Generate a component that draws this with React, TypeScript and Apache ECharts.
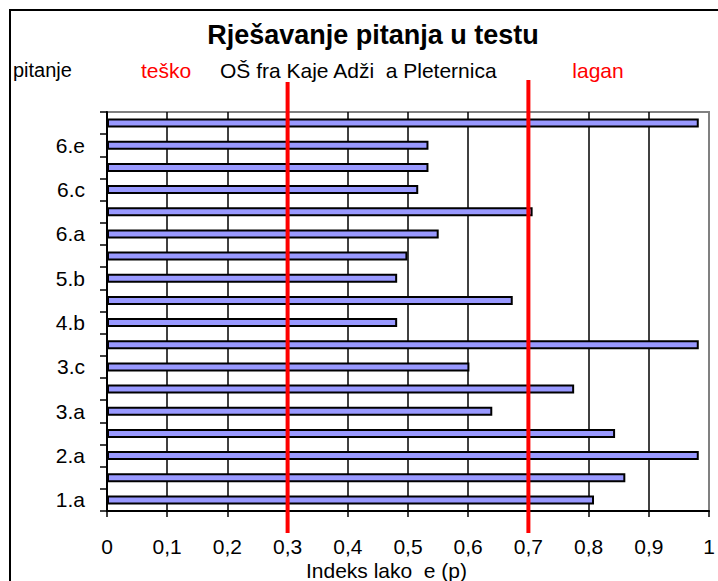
import React, { useEffect, useRef } from "react";
import * as echarts from "echarts";

const categories = [
  "1.a", "1.b", "2.a", "2.b", "3.a", "3.b", "3.c", "4.a", "4.b",
  "5.a", "5.b", "5.c", "6.a", "6.b", "6.c", "6.d", "6.e", "6.f",
];
const values = [
  0.809, 0.861, 0.983, 0.844, 0.64, 0.776, 0.602, 0.983, 0.482,
  0.674, 0.482, 0.499, 0.551, 0.707, 0.517, 0.534, 0.534, 0.983,
];
const thresholds = [0.3, 0.7];
const titleText = "Rješavanje pitanja u testu";
const subLeft = "pitanje";
const subHard = "teško";
const subSchool = "OŠ fra Kaje Adži  a Pleternica";
const subEasy = "lagan";
const xAxisName = "Indeks lako  e (p)";

const FONT = "'Liberation Sans', Arial, sans-serif";

export default function App() {
  const ref = useRef<HTMLDivElement>(null);
  useEffect(() => {
    if (!ref.current) return;
    const chart = echarts.init(ref.current, null, { renderer: "svg" });
    chart.setOption({
      animation: false,
      backgroundColor: "#fff",
      grid: {
        left: 107,
        top: 112,
        width: 602,
        height: 399,
        show: true,
        borderColor: "#808080",
        borderWidth: 2,
        containLabel: false,
        outerBoundsMode: "none",
      },
      xAxis: {
        type: "value",
        min: 0,
        max: 1,
        interval: 0.1,
        axisLine: { show: true, lineStyle: { color: "#000", width: 2 } },
        axisTick: { show: true, length: 6, lineStyle: { color: "#000", width: 1.5 } },
        axisLabel: {
          margin: 25,
          fontSize: 21,
          color: "#000",
          fontFamily: FONT,
          formatter: (v: number) => String(Number(v.toFixed(1))).replace(".", ","),
        },
        splitLine: {
          show: true,
          showMinLine: false,
          showMaxLine: false,
          lineStyle: { color: "#000", width: 1.5 },
        },
        name: xAxisName,
        nameLocation: "middle",
        nameGap: 49,
        nameMoveOverlap: false,
        nameTextStyle: {
          fontSize: 21,
          color: "#000",
          fontFamily: FONT,
          padding: [0, 43, 0, 0],
        },
      },
      yAxis: {
        type: "category",
        data: categories,
        boundaryGap: true,
        axisLine: { show: true, lineStyle: { color: "#000", width: 2 } },
        axisTick: { show: true, interval: 0, length: 7, lineStyle: { color: "#000", width: 1.5 } },
        axisLabel: {
          interval: 1,
          margin: 22,
          fontSize: 21,
          color: "#000",
          fontFamily: FONT,
        },
        splitLine: { show: false },
      },
      series: [
        {
          type: "bar",
          data: values,
          barWidth: 9,
          itemStyle: { color: "#9999FF", borderColor: "#000", borderWidth: 2 },
        },
      ],
    });

    const redLines = thresholds.map((t, i) => {
      const x = chart.convertToPixel({ xAxisIndex: 0 }, t) as number;
      return {
        type: "line",
        z: 100,
        shape: { x1: x, y1: i === 0 ? 82 : 80, x2: x, y2: 533 },
        style: { stroke: "#FF0000", lineWidth: 4 },
      };
    });

    chart.setOption({
      graphic: [
        {
          type: "rect",
          z: 0,
          shape: { x: 10, y: 10, width: 720, height: 600 },
          style: { fill: "none", stroke: "#000", lineWidth: 2 },
        },
        {
          type: "text",
          x: 373,
          y: 35,
          style: {
            text: titleText,
            font: `bold 27px ${FONT}`,
            fill: "#000",
            textAlign: "center",
            textVerticalAlign: "middle",
          },
        },
        {
          type: "text",
          x: 13,
          y: 70,
          style: { text: subLeft, font: `20px ${FONT}`, fill: "#000", textAlign: "left", textVerticalAlign: "middle" },
        },
        {
          type: "text",
          x: 166,
          y: 70,
          style: { text: subHard, font: `21px ${FONT}`, fill: "#FF0000", textAlign: "center", textVerticalAlign: "middle" },
        },
        {
          type: "text",
          x: 220,
          y: 70,
          style: { text: subSchool, font: `21px ${FONT}`, fill: "#000", textAlign: "left", textVerticalAlign: "middle" },
        },
        {
          type: "text",
          x: 598,
          y: 70,
          style: { text: subEasy, font: `21px ${FONT}`, fill: "#FF0000", textAlign: "center", textVerticalAlign: "middle" },
        },
        ...redLines,
      ],
    });

    return () => chart.dispose();
  }, []);
  return (
    <div
      ref={ref}
      style={{ position: "fixed", left: 0, top: 0, width: 718, height: 581 }}
    />
  );
}
